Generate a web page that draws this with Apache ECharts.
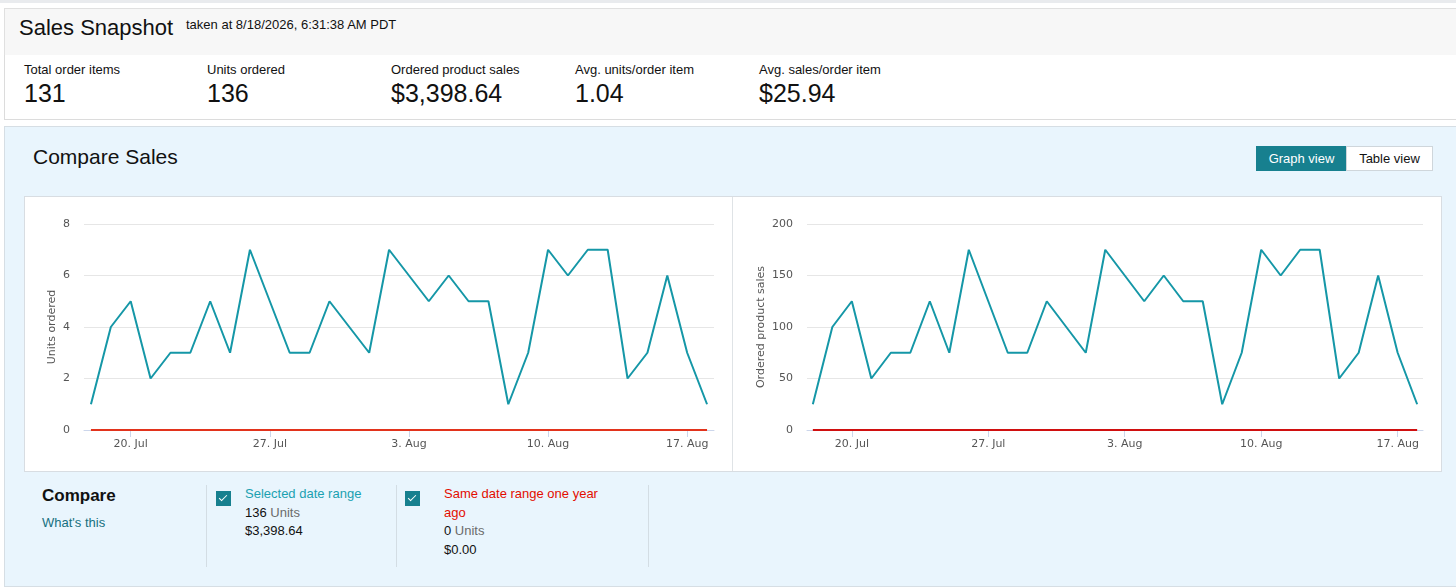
<!DOCTYPE html>
<html>
<head>
<meta charset="utf-8">
<script src="https://cdn.jsdelivr.net/npm/echarts@6.0.0/dist/echarts.min.js"></script>
<style>
body { margin: 0; background: #fff; font-family: "Liberation Sans", Arial, sans-serif; color: #111; width: 1456px; height: 587px; overflow: hidden; position: relative; }
.abs { position: absolute; }
#topline { left: 0; top: 0; width: 1456px; height: 3px; background: #e9ebee; }
#head { left: 4px; top: 8px; width: 1460px; height: 46px; background: #f7f7f7; border: 1px solid #e0e0e0; }
#metrics { left: 4px; top: 55px; width: 1460px; height: 64px; background: #fff; border: 1px solid #dcdcdc; border-top: none; }
.mlabel { font-size: 13px; top: 62px; }
.mval { font-size: 25px; top: 79px; }
#panel { left: 4px; top: 126px; width: 1460px; height: 459px; background: #e9f5fd; border: 1px solid #d6dee4; }
#charts { left: 24px; top: 196px; width: 1416px; height: 274px; background: #fff; border: 1px solid #d8dde2; }
#divider { left: 732px; top: 197px; width: 1px; height: 274px; background: #dfe3e6; }
.btn { top: 146px; height: 23px; font-size: 13px; line-height: 23px; text-align: center; border: 1px solid #cfd6db; }
.vdiv { top: 485px; width: 1px; height: 82px; background: #d3dde4; }
.cb { width: 15px; height: 15px; background: #17808f; top: 491px; }
.cb:after { content: ""; position: absolute; left: 5px; top: 2px; width: 3px; height: 7px; border: solid #fff; border-width: 0 1.5px 1.5px 0; transform: rotate(45deg); }
.t13 { font-size: 13px; line-height: 18.5px; }
.gray { color: #6b6b6b; }
</style>
</head>
<body>
<div class="abs" id="topline"></div>
<div class="abs" id="head"></div>
<div class="abs" style="left:19px;top:15px;font-size:22px;">Sales Snapshot</div>
<div class="abs" style="left:186px;top:17px;font-size:13px;">taken at 8/18/2026, 6:31:38 AM PDT</div>
<div class="abs" id="metrics"></div>
<div class="abs mlabel" style="left:24px;">Total order items</div>
<div class="abs mval" style="left:24px;">131</div>
<div class="abs mlabel" style="left:207px;">Units ordered</div>
<div class="abs mval" style="left:207px;">136</div>
<div class="abs mlabel" style="left:391px;">Ordered product sales</div>
<div class="abs mval" style="left:391px;">$3,398.64</div>
<div class="abs mlabel" style="left:575px;">Avg. units/order item</div>
<div class="abs mval" style="left:575px;">1.04</div>
<div class="abs mlabel" style="left:759px;">Avg. sales/order item</div>
<div class="abs mval" style="left:759px;">$25.94</div>

<div class="abs" id="panel"></div>
<div class="abs" style="left:33px;top:145px;font-size:21px;">Compare Sales</div>
<div class="abs btn" style="left:1256px;width:89px;background:#17808f;color:#fff;border-color:#17808f;">Graph view</div>
<div class="abs btn" style="left:1346px;width:85px;background:#fff;color:#111;">Table view</div>

<div class="abs" id="charts"></div>
<div class="abs" id="chartUnits" style="left:25px;top:197px;width:707px;height:273px;"></div>
<div class="abs" id="divider"></div>
<div class="abs" id="chartSales" style="left:733px;top:197px;width:707px;height:273px;"></div>

<div class="abs" style="left:42px;top:486px;font-size:17px;font-weight:bold;">Compare</div>
<div class="abs t13" style="left:42px;top:514px;color:#17707f;">What's this</div>
<div class="abs vdiv" style="left:206px;"></div>
<div class="abs vdiv" style="left:396px;"></div>
<div class="abs vdiv" style="left:648px;"></div>
<div class="abs cb" style="left:216px;"></div>
<div class="abs t13" style="left:245px;top:485px;">
  <div style="color:#1aa1b1;">Selected date range</div>
  <div>136 <span class="gray">Units</span></div>
  <div>$3,398.64</div>
</div>
<div class="abs cb" style="left:405px;"></div>
<div class="abs t13" style="left:444px;top:485px;width:170px;">
  <div style="color:#e30d00;">Same date range one year ago</div>
  <div>0 <span class="gray">Units</span></div>
  <div>$0.00</div>
</div>

<script>
var dates = ['18. Jul', '19. Jul', '20. Jul', '21. Jul', '22. Jul', '23. Jul', '24. Jul', '25. Jul',
	'26. Jul', '27. Jul', '28. Jul', '29. Jul', '30. Jul', '31. Jul', '1. Aug', '2. Aug',
	'3. Aug', '4. Aug', '5. Aug', '6. Aug', '7. Aug', '8. Aug', '9. Aug', '10. Aug',
	'11. Aug', '12. Aug', '13. Aug', '14. Aug', '15. Aug', '16. Aug', '17. Aug', '18. Aug'];
var dateTicks = [2, 9, 16, 23, 30];
var units = [1, 4, 5, 2, 3, 3, 5, 3, 7, 5, 3, 3, 5, 4, 3, 7,
	6, 5, 6, 5, 5, 1, 3, 7, 6, 7, 7, 2, 3, 6, 3, 1];
var unitsLastYear = [0, 0, 0, 0, 0, 0, 0, 0, 0, 0, 0, 0, 0, 0, 0, 0,
	0, 0, 0, 0, 0, 0, 0, 0, 0, 0, 0, 0, 0, 0, 0, 0];
var sales = [25, 100, 125, 50, 75, 75, 125, 75, 175, 125, 75, 75, 125, 100, 75, 175,
	150, 125, 150, 125, 125, 25, 75, 175, 150, 175, 175, 50, 75, 150, 75, 25];
var salesLastYear = [0, 0, 0, 0, 0, 0, 0, 0, 0, 0, 0, 0, 0, 0, 0, 0,
	0, 0, 0, 0, 0, 0, 0, 0, 0, 0, 0, 0, 0, 0, 0, 0];
var unitTicks = [0, 2, 4, 6, 8];
var salesTicks = [0, 50, 100, 150, 200];

function pairs(arr) {
	return arr.map(function (v, i) { return [i, v]; });
}

function drawChart(id, current, lastYear, yTicks, yName, left, right, pad, gap, redColor) {
	var myChart = echarts.init(document.getElementById(id));
	var option = {
		animation: false,
		grid: { left: left, right: right, top: 27, bottom: 40 },
		xAxis: {
			type: 'value',
			min: -pad,
			max: dates.length - 1 + pad,
			splitLine: { show: false },
			axisLine: { show: true, lineStyle: { color: '#ccd6eb', width: 1 } },
			axisTick: { show: true, customValues: dateTicks, length: 7, lineStyle: { color: '#ccd6eb' } },
			axisLabel: {
				customValues: dateTicks,
				formatter: function (v) { return dates[Math.round(v)]; },
				color: '#555', fontSize: 11, fontFamily: 'DejaVu Sans', margin: 9
			}
		},
		yAxis: {
			type: 'value',
			min: yTicks[0],
			max: yTicks[yTicks.length - 1],
			interval: yTicks[1] - yTicks[0],
			name: yName,
			nameLocation: 'middle',
			nameGap: gap,
			nameMoveOverlap: false,
			nameTextStyle: { color: '#555', fontSize: 11, fontFamily: 'DejaVu Sans' },
			axisLine: { show: false },
			axisTick: { show: false },
			axisLabel: { color: '#555', fontSize: 11, fontFamily: 'DejaVu Sans', margin: 14, padding: [3, 0, 0, 0] },
			splitLine: { lineStyle: { color: '#e6e6e6', width: 1 } }
		},
		series: [{
			type: 'line',
			data: pairs(current),
			symbol: 'none',
			lineStyle: { color: '#1597a7', width: 2 },
			z: 3
		}, {
			type: 'line',
			data: pairs(lastYear),
			symbol: 'none',
			lineStyle: { color: redColor, width: 2 },
			z: 4
		}]
	};
	myChart.setOption(option);
}

drawChart('chartUnits', units, unitsLastYear, unitTicks, 'Units ordered', 59, 18, 0.35, 26, '#e2331c');
drawChart('chartSales', sales, salesLastYear, salesTicks, 'Ordered product sales', 74, 17, 0.3, 40, '#d01010');
</script>
</body>
</html>
